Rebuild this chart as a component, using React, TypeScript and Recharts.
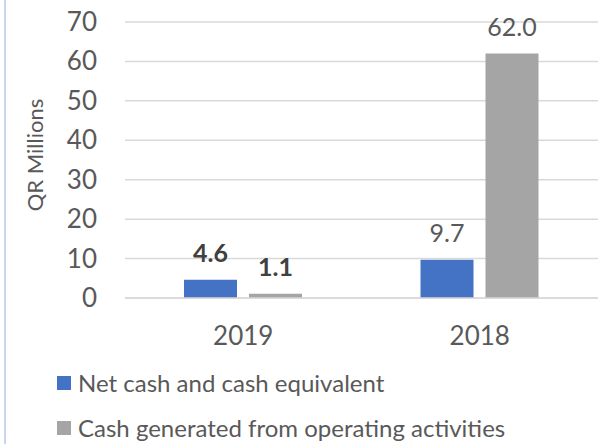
import { BarChart, Bar, XAxis, YAxis, CartesianGrid, Legend, LabelList } from 'recharts'

const categories = ['2019', '2018']
const netCash = [4.6, 9.7]
const cashOps = [1.1, 62.0]
const yTicks = [0, 10, 20, 30, 40, 50, 60, 70]

const seriesNames = ['Net cash and cash equivalent', 'Cash generated from operating activities']
const colors = ['#4472C4', '#A5A5A5']

const data = categories.map((year, i) => ({ year, net: netCash[i], ops: cashOps[i] }))

const FONT = 'Lato, "Noto Sans", sans-serif'
const TEXT = '#595959'

function YTick({ y, payload }: any) {
  return (
    <text x={97} y={y} dy={9} textAnchor="end" fontSize={26} fill={TEXT} fontFamily={FONT}>
      {payload.value}
    </text>
  )
}

function XTick({ x, y, payload }: any) {
  return (
    <text x={x} y={y} dy={39} textAnchor="middle" fontSize={26} fill={TEXT} fontFamily={FONT}>
      {payload.value}
    </text>
  )
}

function YTitle() {
  return (
    <text
      x={35}
      y={155}
      dy={8}
      transform="rotate(-90 35 155)"
      textAnchor="middle"
      fontSize={22}
      fill={TEXT}
      fontFamily={FONT}
    >
      QR Millions
    </text>
  )
}

// 2019 labels are bold in the source, 2018 ones are not
function valueLabel(props: any) {
  const { x, y, width, value, index } = props
  return (
    <text
      x={x + width / 2}
      y={y - 18}
      textAnchor="middle"
      fontSize={25}
      fontWeight={index === 0 ? 700 : 400}
      fill={index === 0 ? '#404040' : TEXT}
      fontFamily={FONT}
    >
      {Number(value).toFixed(1)}
    </text>
  )
}

function LegendBox() {
  return (
    <div style={{ fontFamily: FONT, fontSize: 24, color: TEXT }}>
      {seriesNames.map((name, i) => (
        <div key={name} style={{ display: 'flex', alignItems: 'center', height: 45 }}>
          <span style={{ width: 14, height: 14, background: colors[i], marginRight: 7, display: 'inline-block' }} />
          {name}
        </div>
      ))}
    </div>
  )
}

export default function App() {
  return (
    <div style={{ position: 'absolute', left: 0, top: 0, width: 600, height: 444, background: '#fff', overflow: 'hidden' }}>
      <div style={{ position: 'absolute', left: 4, top: 0, width: 2, height: 444, background: '#c9d6ee' }} />
      <BarChart
        width={600}
        height={444}
        data={data}
        margin={{ top: 22, right: 2, left: 0, bottom: 116 }}
        barGap={12}
        barSize={53}
      >
        <CartesianGrid vertical={false} stroke="#D9D9D9" strokeWidth={1.5} />
        <XAxis dataKey="year" height={30} axisLine={{ stroke: '#D9D9D9', strokeWidth: 1.5 }} tickLine={false} tick={<XTick />} />
        <YAxis
          width={125}
          domain={[0, 70]}
          ticks={yTicks}
          axisLine={false}
          tickLine={false}
          tick={<YTick />}
          label={{ value: 'QR Millions', content: <YTitle /> }}
        />
        <Bar dataKey="net" name={seriesNames[0]} fill={colors[0]} isAnimationActive={false}>
          <LabelList dataKey="net" content={valueLabel} />
        </Bar>
        <Bar dataKey="ops" name={seriesNames[1]} fill={colors[1]} isAnimationActive={false}>
          <LabelList dataKey="ops" content={valueLabel} />
        </Bar>
        <Legend
          layout="vertical"
          verticalAlign="middle"
          align="center"
          content={<LegendBox />}
          wrapperStyle={{ position: 'absolute', left: 57, top: 360, width: 540 }}
        />
      </BarChart>
    </div>
  )
}
